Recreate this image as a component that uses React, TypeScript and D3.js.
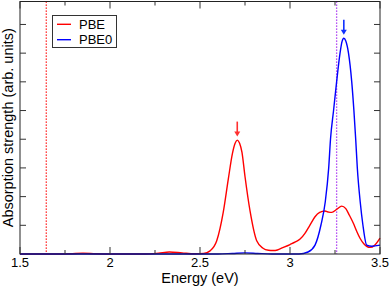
import { useEffect, useRef } from 'react'
import * as d3 from 'd3'

// Spectra: [energy (eV), absorption (arb. units)]
const PBE: [number, number][] = [
  [1.5, 0], [1.7, 0], [1.78, 0.01], [1.85, 0.03], [1.92, 0.01], [2.0, 0],
  [2.2, 0], [2.27, 0.03], [2.33, 0.07], [2.4, 0.04], [2.47, 0.01], [2.52, 0.02],
  [2.556, 0.11], [2.593, 0.46], [2.629, 1.45], [2.657, 2.6], [2.68, 3.5],
  [2.695, 3.86], [2.707, 3.97], [2.72, 3.86], [2.733, 3.55], [2.75, 2.7],
  [2.778, 1.5], [2.815, 0.46], [2.85, 0.2], [2.88, 0.13], [2.906, 0.12],
  [2.93, 0.14], [2.96, 0.22], [3.0, 0.33], [3.03, 0.42], [3.056, 0.52],
  [3.083, 0.72], [3.11, 1.0], [3.139, 1.3], [3.165, 1.45], [3.194, 1.5],
  [3.215, 1.46], [3.232, 1.45], [3.26, 1.56], [3.287, 1.67], [3.31, 1.58],
  [3.33, 1.35], [3.352, 1.07], [3.37, 0.8], [3.389, 0.55], [3.41, 0.36],
  [3.444, 0.23], [3.47, 0.3], [3.5, 0.55],
]

const PBE0: [number, number][] = [
  [1.5, 0], [2.6, 0], [2.68, 0.02], [2.75, 0.04], [2.82, 0.02], [2.9, 0],
  [3.05, 0], [3.1, 0.07], [3.139, 0.31], [3.172, 1.01], [3.196, 1.82],
  [3.215, 3.0], [3.225, 4.0], [3.242, 5.0], [3.259, 6.0], [3.278, 7.0],
  [3.289, 7.4], [3.299, 7.52], [3.31, 7.42], [3.325, 7.0], [3.343, 6.0],
  [3.355, 5.0], [3.365, 4.0], [3.374, 3.0], [3.39, 1.82], [3.405, 1.01],
  [3.426, 0.31], [3.454, 0.27], [3.5, 0.31],
]

const SERIES = [
  { name: 'PBE', color: '#ff0000', data: PBE },
  { name: 'PBE0', color: '#0000ff', data: PBE0 },
]

// band-gap markers (dotted) and peak arrows
const GAPS = [
  { e: 1.646, color: '#ff0000' },
  { e: 3.259, color: '#a020f0' },
]
const ARROWS = [
  { e: 2.707, peak: 3.97, color: '#ff3030' },
  { e: 3.299, peak: 7.52, color: '#1030ff' },
]

const X_MAJOR = [1.5, 2, 2.5, 3, 3.5]
const X_MINOR = [1.75, 2.25, 2.75, 3.25]
const Y_TICKS = [1, 2, 3, 4, 5, 6, 7, 8]

const FONT = 'Liberation Sans, Arial, sans-serif'

export default function App() {
  const svgRef = useRef<SVGSVGElement>(null)

  useEffect(() => {
    if (!svgRef.current) return
    const svg = d3.select(svgRef.current)
    svg.selectAll('*').remove()

    const W = 390, H = 287
    const left = 20, right = 380, top = 1.5, bottom = 254

    const x = d3.scaleLinear().domain([1.5, 3.5]).range([left, right])
    const y = d3.scaleLinear().domain([0, 8.8]).range([bottom, top])

    svg.attr('width', W).attr('height', H)

    const plot = svg.append('g')

    // dotted gap lines
    GAPS.forEach(g => {
      plot.append('line')
        .attr('x1', x(g.e)).attr('x2', x(g.e))
        .attr('y1', top).attr('y2', bottom)
        .attr('stroke', g.color).attr('stroke-width', 1.3)
        .attr('stroke-dasharray', '1.2,1.8')
    })

    // curves
    const line = d3.line<[number, number]>()
      .x(d => x(d[0]))
      .y(d => y(d[1]))
      .curve(d3.curveMonotoneX)

    SERIES.forEach(s => {
      plot.append('path')
        .datum(s.data)
        .attr('d', line)
        .attr('fill', 'none')
        .attr('stroke', s.color)
        .attr('stroke-width', 1.4)
    })

    // arrows above peaks
    ARROWS.forEach(a => {
      const ax = x(a.e)
      const tip = y(a.peak) - 3.5
      plot.append('line')
        .attr('x1', ax).attr('x2', ax)
        .attr('y1', tip - 15).attr('y2', tip - 3)
        .attr('stroke', a.color).attr('stroke-width', 1.6)
      plot.append('path')
        .attr('d', `M${ax - 3},${tip - 5} L${ax + 3},${tip - 5} L${ax},${tip} Z`)
        .attr('fill', a.color)
    })

    // frame
    svg.append('rect')
      .attr('x', left).attr('y', top)
      .attr('width', right - left).attr('height', bottom - top)
      .attr('fill', 'none').attr('stroke', '#222').attr('stroke-width', 1)

    const ticks = svg.append('g').attr('stroke', '#333').attr('stroke-width', 1)
    X_MAJOR.forEach(v => {
      ticks.append('line').attr('x1', x(v)).attr('x2', x(v)).attr('y1', bottom).attr('y2', bottom - 7)
      ticks.append('line').attr('x1', x(v)).attr('x2', x(v)).attr('y1', top).attr('y2', top + 7)
    })
    X_MINOR.forEach(v => {
      ticks.append('line').attr('x1', x(v)).attr('x2', x(v)).attr('y1', bottom).attr('y2', bottom - 4)
      ticks.append('line').attr('x1', x(v)).attr('x2', x(v)).attr('y1', top).attr('y2', top + 4)
    })
    Y_TICKS.forEach(v => {
      ticks.append('line').attr('x1', left).attr('x2', left + 6).attr('y1', y(v)).attr('y2', y(v))
      ticks.append('line').attr('x1', right).attr('x2', right - 6).attr('y1', y(v)).attr('y2', y(v))
    })

    // tick labels
    X_MAJOR.forEach(v => {
      svg.append('text')
        .attr('x', x(v)).attr('y', 267)
        .attr('text-anchor', 'middle')
        .attr('font-family', FONT).attr('font-size', 13).attr('fill', '#000')
        .text(d3.format('~g')(v))
    })

    // axis labels
    svg.append('text')
      .attr('x', (left + right) / 2).attr('y', 283)
      .attr('text-anchor', 'middle')
      .attr('font-family', FONT).attr('font-size', 14.5).attr('fill', '#000')
      .text('Energy (eV)')

    svg.append('text')
      .attr('transform', `translate(13.3,${(top + bottom) / 2}) rotate(-90)`)
      .attr('text-anchor', 'middle')
      .attr('font-family', FONT).attr('font-size', 14.5).attr('fill', '#000')
      .text('Absorption strength (arb. units)')

    // legend
    const lg = svg.append('g')
    lg.append('rect')
      .attr('x', 52.5).attr('y', 15.5).attr('width', 64).attr('height', 32)
      .attr('fill', '#fff').attr('stroke', '#333').attr('stroke-width', 1)
    SERIES.forEach((s, i) => {
      const ly = 24.3 + i * 15.4
      lg.append('line')
        .attr('x1', 57).attr('x2', 71).attr('y1', ly).attr('y2', ly)
        .attr('stroke', s.color).attr('stroke-width', 1.4)
      lg.append('text')
        .attr('x', 79).attr('y', ly + 4.6)
        .attr('font-family', FONT).attr('font-size', 13).attr('fill', '#000')
        .text(s.name)
    })
  }, [])

  return (
    <svg
      ref={svgRef}
      style={{ position: 'absolute', left: 0, top: 0, display: 'block', background: '#fff' }}
    />
  )
}
